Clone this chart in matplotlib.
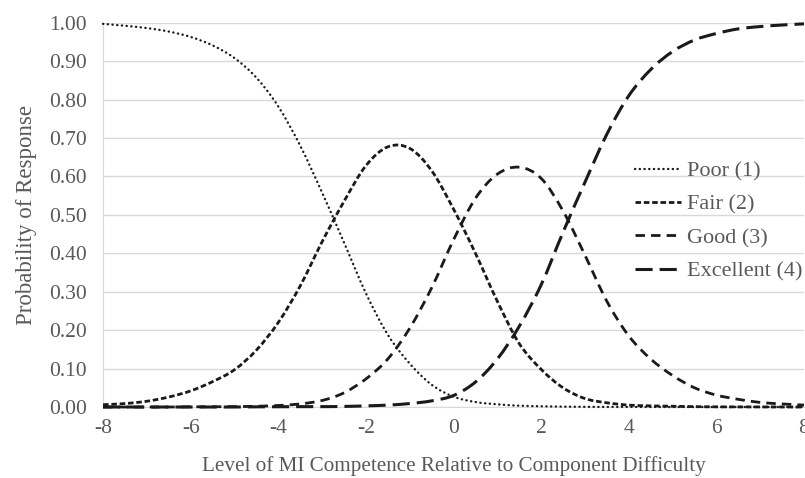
import matplotlib
matplotlib.use('Agg')
import matplotlib.pyplot as plt
from matplotlib.path import Path
from matplotlib.patches import PathPatch
from matplotlib.lines import Line2D

# level of competence relative to component difficulty
theta = [-8, -7.5, -7, -6.5, -6, -5.5, -5, -4.5, -4, -3.5, -3, -2.5, -2, -1.5, -1, -0.5,
         0, 0.5, 1, 1.5, 2, 2.5, 3, 3.5, 4, 4.5, 5, 5.5, 6, 6.5, 7, 7.5, 8]

# values
poor = [0.997, 0.992, 0.986, 0.977, 0.963, 0.941, 0.908, 0.857, 0.782, 0.680, 0.558, 0.428,
        0.296, 0.188, 0.113, 0.058, 0.027, 0.013, 0.007, 0.0035, 0.002, 0.001, 0.0005, 0.0003,
        0.0002, 0.0001, 0.0, 0.0, 0.0, 0.0, 0.0, 0.0, 0.0]
fair = [0.006, 0.009, 0.015, 0.026, 0.042, 0.066, 0.097, 0.148, 0.220, 0.315, 0.430, 0.535,
        0.628, 0.677, 0.673, 0.615, 0.515, 0.400, 0.275, 0.165, 0.098, 0.050, 0.022, 0.011,
        0.005, 0.003, 0.002, 0.001, 0.0005, 0.0003, 0.0002, 0.0001, 0.0]
good = [0.0, 0.0, 0.0, 0.0, 0.0005, 0.0007, 0.001, 0.002, 0.004, 0.008, 0.017, 0.037,
        0.073, 0.125, 0.205, 0.310, 0.435, 0.543, 0.606, 0.624, 0.595, 0.510, 0.395, 0.275,
        0.185, 0.125, 0.082, 0.050, 0.031, 0.020, 0.012, 0.008, 0.005]
excellent = [0.0, 0.0, 0.0, 0.0, 0.0, 0.0, 0.0, 0.0005, 0.0007, 0.001, 0.001, 0.0015,
             0.003, 0.005, 0.009, 0.016, 0.030, 0.065, 0.125, 0.210, 0.318, 0.455, 0.585, 0.710,
             0.810, 0.878, 0.925, 0.955, 0.972, 0.984, 0.990, 0.994, 0.997]

labels = ['Poor (1)', 'Fair (2)', 'Good (3)', 'Excellent (4)']
yticks = [0, 0.1, 0.2, 0.3, 0.4, 0.5, 0.6, 0.7, 0.8, 0.9, 1.0]
xticks = [-8, -6, -4, -2, 0, 2, 4, 6, 8]


def smooth_path(xs, ys):
    # excel style smoothed line: bezier segments through the points
    pts = list(zip(xs, ys))
    n = len(pts)
    verts = [pts[0]]
    codes = [Path.MOVETO]
    for i in range(n - 1):
        p0 = pts[i - 1] if i > 0 else pts[i]
        p1 = pts[i]
        p2 = pts[i + 1]
        p3 = pts[i + 2] if i + 2 < n else pts[i + 1]
        c1 = (p1[0] + (p2[0] - p0[0]) / 6, p1[1] + (p2[1] - p0[1]) / 6)
        c2 = (p2[0] - (p3[0] - p1[0]) / 6, p2[1] - (p3[1] - p1[1]) / 6)
        verts += [c1, c2, p2]
        codes += [Path.CURVE4] * 3
    return Path(verts, codes)


plt.rcParams['font.family'] = ['Liberation Serif', 'DejaVu Serif']
grey = '#595959'
ink = '#1a1a1a'

fig = plt.figure(figsize=(8.05, 4.78), dpi=100)
ax = fig.add_axes([0.128, 0.1485, 0.8708, 0.804])

series = [poor, fair, good, excellent]
styles = [
    dict(lw=1.7, linestyle=(0, (0.1, 1.9)), capstyle='round'),
    dict(lw=2.0, linestyle=(0, (2.0, 1.0)), capstyle='butt'),
    dict(lw=2.0, linestyle=(0, (3.4, 2.2)), capstyle='butt'),
    dict(lw=2.2, linestyle=(0, (5.6, 2.3)), capstyle='butt'),
]
handles = []
for ys, st, lab in zip(series, styles, labels):
    p = PathPatch(smooth_path(theta, ys), fill=False, edgecolor=ink, lw=st['lw'],
                  linestyle=st['linestyle'], capstyle=st['capstyle'], zorder=3, clip_on=False)
    ax.add_patch(p)
    handles.append(Line2D([0], [0], color=ink, lw=st['lw'], linestyle=st['linestyle'],
                          dash_capstyle=st['capstyle'], label=lab))

ax.set_xlim(-8, 8)
ax.set_ylim(0, 1.0)
ax.set_xticks(xticks)
ax.set_xticklabels([str(t) for t in xticks])
ax.set_yticks(yticks)
ax.set_yticklabels(['%.2f' % t for t in yticks])
ax.tick_params(axis='both', length=0, labelsize=15.5, labelcolor=grey)
ax.tick_params(axis='y', pad=11.5)
ax.tick_params(axis='x', pad=8.5)
ax.grid(axis='y', color='#d9d9d9', lw=1.0)
ax.set_axisbelow(True)
for s in ['top', 'right']:
    ax.spines[s].set_visible(False)
ax.spines['left'].set_color('#d9d9d9')
ax.spines['bottom'].set_color('#d9d9d9')

ax.set_xlabel('Level of MI Competence Relative to Component Difficulty', fontsize=15.2, color=grey, labelpad=13)
ax.set_ylabel('Probability of Response', fontsize=16.5, color=grey, labelpad=9)

leg = ax.legend(handles=handles, loc='upper left', bbox_to_anchor=(0.759, 0.64), frameon=False,
                fontsize=16, handlelength=2.07, handletextpad=0.27, labelspacing=0.57,
                borderpad=0, borderaxespad=0)
for t in leg.get_texts():
    t.set_color(grey)

fig.savefig('out.png', dpi=100)
